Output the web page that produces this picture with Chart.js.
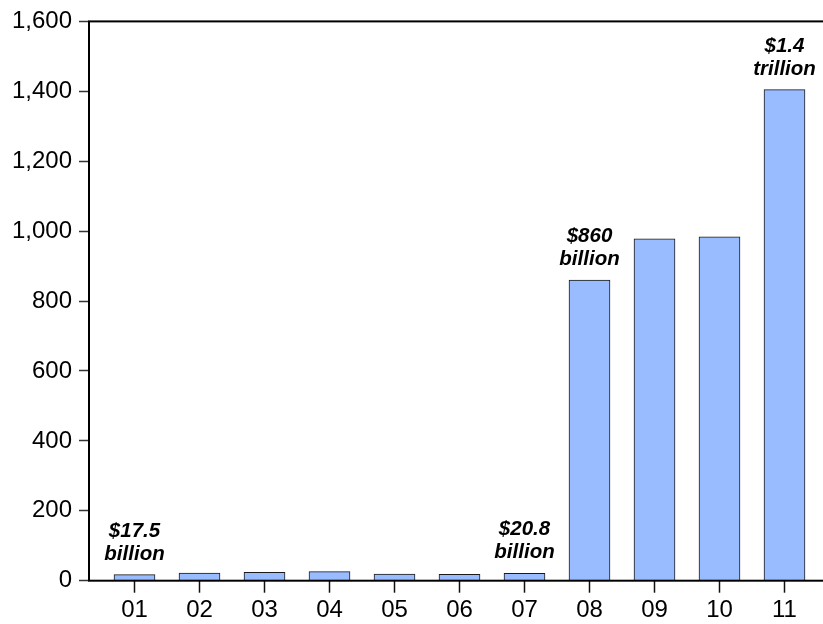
<!DOCTYPE html>
<html>
<head>
<meta charset="utf-8">
<script src="https://cdn.jsdelivr.net/npm/chart.js@4/dist/chart.umd.min.js"></script>
<style>
  html, body { margin: 0; padding: 0; background: #fff; overflow: hidden; }
  #wrap { width: 823px; height: 624px; overflow: hidden; }
  #box { width: 845px; height: 624px; }
</style>
</head>
<body>
<div id="wrap"><div id="box"><canvas id="myChart"></canvas></div></div>
<script>
// data
const years = ["01", "02", "03", "04", "05", "06", "07", "08", "09", "10", "11"]
const values = [17.5, 22, 24, 26, 19, 18, 20.8, 860, 978, 984, 1405]
const yTicks = [0, 200, 400, 600, 800, 1000, 1200, 1400, 1600]
const noteBars = [0, 6, 7, 10]
const noteLines = [
  ["$17.5", "billion"],
  ["$20.8", "billion"],
  ["$860", "billion"],
  ["$1.4", "trillion"],
]

const font = "'Liberation Sans', Arial, sans-serif"

// frame round the plot area
const framePlugin = {
  id: "frame",
  afterDatasetsDraw(chart) {
    const { ctx, chartArea } = chart
    ctx.save()
    ctx.strokeStyle = "#000"
    ctx.lineWidth = 2
    ctx.strokeRect(chartArea.left, chartArea.top, chartArea.right - chartArea.left, chartArea.bottom - chartArea.top)
    ctx.restore()
  },
}

// text over some bars
const notePlugin = {
  id: "notes",
  afterDatasetsDraw(chart) {
    const ctx = chart.ctx
    const bars = chart.getDatasetMeta(0).data
    ctx.save()
    ctx.fillStyle = "#000"
    ctx.font = "italic bold 20.5px " + font
    ctx.textAlign = "center"
    ctx.textBaseline = "alphabetic"
    noteBars.forEach((idx, n) => {
      const bar = bars[idx]
      const lines = noteLines[n]
      ctx.fillText(lines[1], bar.x, bar.y - 15)
      ctx.fillText(lines[0], bar.x, bar.y - 38)
    })
    ctx.restore()
  },
}

const points = years.map((y, i) => ({ x: i + 1, y: values[i] }))

new Chart(document.querySelector("#myChart"), {
  type: "bar",
  data: {
    datasets: [
      {
        data: points,
        backgroundColor: "#99bbff",
        borderColor: "#1a1a1a",
        borderWidth: 1,
        borderSkipped: "bottom",
        barThickness: 41,
      },
    ],
  },
  plugins: [framePlugin, notePlugin],
  options: {
    responsive: true,
    maintainAspectRatio: false,
    animation: false,
    layout: { padding: { top: 20, right: 15, left: 0, bottom: 0 } },
    plugins: {
      legend: { display: false },
      tooltip: { enabled: false },
    },
    scales: {
      x: {
        type: "linear",
        min: 0.3,
        max: 11.7,
        offset: false,
        afterBuildTicks(scale) {
          scale.ticks = years.map((y, i) => ({ value: i + 1 }))
        },
        afterFit(scale) {
          scale.height = 624 - 580.7
        },
        border: { display: false },
        grid: {
          offset: false,
          drawOnChartArea: false,
          drawTicks: true,
          tickLength: 12,
          tickColor: "#111",
          tickWidth: 1.5,
        },
        ticks: {
          padding: 3,
          color: "#000",
          font: { family: font, size: 24 },
          callback: (v) => years[v - 1],
        },
      },
      y: {
        min: 0,
        max: 1600,
        afterBuildTicks(scale) {
          scale.ticks = yTicks.map((v) => ({ value: v }))
        },
        afterFit(scale) {
          scale.width = 89
        },
        border: { display: false },
        grid: {
          drawOnChartArea: false,
          drawTicks: true,
          tickLength: 10,
          tickColor: "#333",
          tickWidth: 1.5,
        },
        ticks: {
          padding: 7,
          color: "#000",
          font: { family: font, size: 24 },
          callback: (v) => v.toLocaleString("en-US"),
        },
      },
    },
  },
})
</script>
</body>
</html>
